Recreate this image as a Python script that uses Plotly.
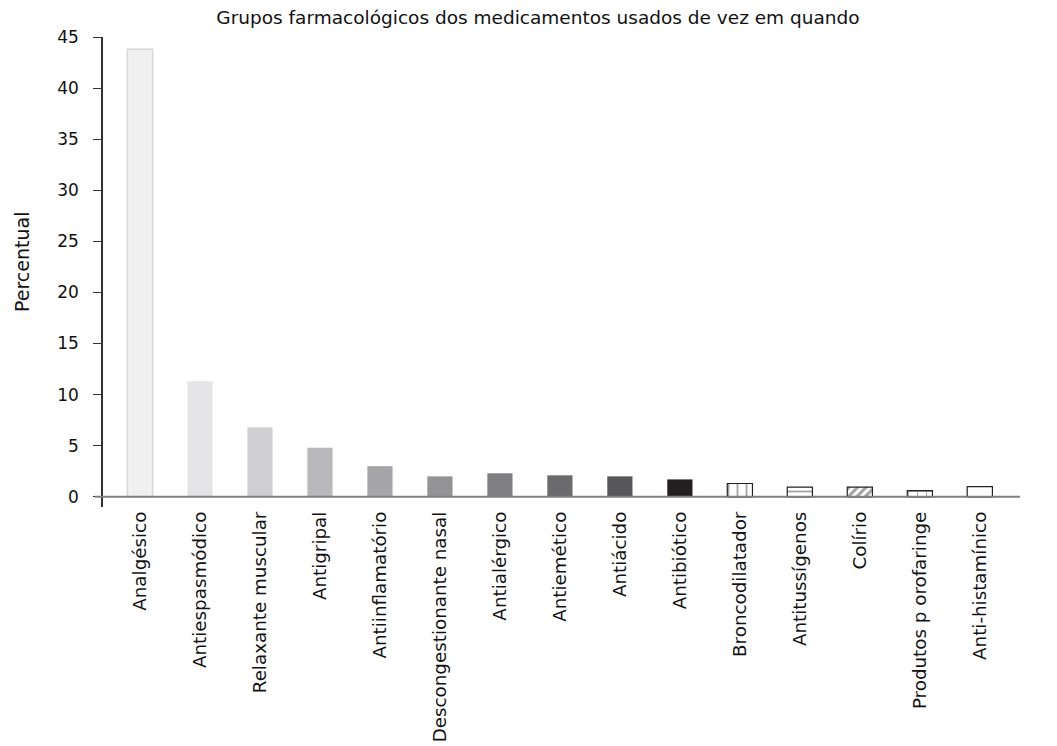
import plotly.graph_objects as go

categories = ["Analgésico", "Antiespasmódico", "Relaxante muscular", "Antigripal",
              "Antiinflamatório", "Descongestionante nasal", "Antialérgico", "Antiemético",
              "Antiácido", "Antibiótico", "Broncodilatador", "Antitussígenos", "Colírio",
              "Produtos p orofaringe", "Anti-histamínico"]
values = [43.8, 11.3, 6.8, 4.8, 3.0, 2.0, 2.3, 2.1, 2.0, 1.7, 1.3, 0.95, 0.95, 0.6, 1.0]
colors = ["#f0f0f0", "#e4e4e6", "#d0d0d2", "#b9b9bc", "#a6a6a9", "#939396", "#808082",
          "#6b6b6d", "#58585a", "#231f20", "#ffffff", "#ffffff", "#ffffff", "#ffffff", "#ffffff"]
patterns = ["", "", "", "", "", "", "", "", "", "", "|", "-", "/", "+", ""]
pattern_sizes = [8] * 10 + [9, 9, 6, 9, 8]
pattern_solidity = [0.2] * 10 + [0.2, 0.2, 0.5, 0.2, 0.2]
line_colors = ["#d6d6d6"] + ["rgba(0,0,0,0)"] * 9 + ["#222222"] * 5
line_widths = [1.5] + [0] * 9 + [1.2] * 5
yticks = [0, 5, 10, 15, 20, 25, 30, 35, 40, 45]

FONT = "DejaVu Sans, Liberation Sans, Arial, sans-serif"
W, H = 1049, 738  # page has an 8px body margin
L, R, T, B = 95, 37, 29, 239
PW, PH = W - L - R, H - T - B

fig = go.Figure()
fig.add_trace(go.Bar(
    x=categories, y=values, width=0.42,
    marker=dict(color=colors, line=dict(color=line_colors, width=line_widths),
                pattern=dict(shape=patterns, fgcolor="#1a1a1a", bgcolor="#ffffff",
                             size=pattern_sizes, solidity=pattern_solidity)),
))
fig.add_shape(type="line", xref="paper", yref="y", x0=-8 / PW, x1=1, y0=0, y1=0,
              line=dict(color="#7f7f7f", width=2), layer="above")

fig.add_annotation(text="Percentual", xref="paper", yref="paper",
                   x=(1 - L) / PW, y=(T + PH - 254) / PH, xanchor="left", yanchor="middle",
                   textangle=-90, showarrow=False, font=dict(size=19, color="#111111"))

fig.update_layout(
    width=W, height=H,
    margin=dict(l=L, r=R, t=T, b=B, autoexpand=False),
    plot_bgcolor="white", paper_bgcolor="white",
    showlegend=False,
    font=dict(family=FONT, color="#111111", size=17),
    title=dict(text="Grupos farmacológicos dos medicamentos usados de vez em quando",
               x=530 / W, xanchor="center", y=(H - 3) / H, yanchor="top",
               font=dict(size=18.5, color="#111111")),
)
fig.update_xaxes(range=[-0.617, 14.67], tickangle=-90, showline=False, ticks="",
                 showgrid=False, tickfont=dict(size=18.3), fixedrange=True, automargin=False)
fig.update_yaxes(range=[-1.0, 45], tickvals=yticks, ticks="outside", ticklen=8,
                 tickcolor="#333333", showline=True, linecolor="#333333", linewidth=1.5,
                 showgrid=False, zeroline=False, tickfont=dict(size=17), automargin=False,
                 ticklabelstandoff=11)

fig.write_html("out.html")
